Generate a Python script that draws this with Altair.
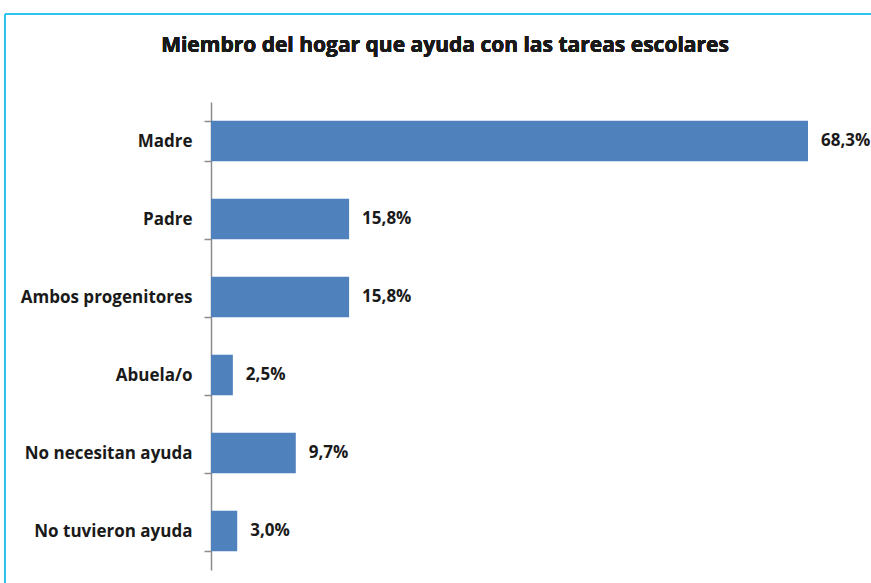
import altair as alt
import pandas as pd

categories = ["Madre", "Padre", "Ambos progenitores", "Abuela/o", "No necesitan ayuda", "No tuvieron ayuda"]
values = [68.3, 15.8, 15.8, 2.5, 9.7, 3.0]
labels = [f"{v:.1f}%".replace(".", ",") for v in values]
title_text = "Miembro del hogar que ayuda con las tareas escolares"

df = pd.DataFrame({"cat": categories, "val": values, "lab": labels})

FONT = "Open Sans"
W, H = 660, 468

y_enc = alt.Y("cat:N", sort=categories, scale=alt.Scale(paddingInner=0.48, paddingOuter=0.24),
              axis=alt.Axis(title=None, tickBand="extent", grid=False, domainColor="#8c8c8c",
                            tickColor="#8c8c8c", tickSize=7, labelPadding=12, labelFont=FONT,
                            labelFontSize=17, labelFontWeight="bold", labelColor="#1a1a1a",
                            domainWidth=1.5, tickWidth=1.5))
x_enc = alt.X("val:Q", scale=alt.Scale(domain=[0, 68.3 * W / 597]), axis=None)

bars = alt.Chart().mark_bar(color="#4F81BD").encode(x=x_enc, y=y_enc)
text = alt.Chart().mark_text(align="left", baseline="middle", dx=13, font=FONT, fontSize=17,
                             fontWeight="bold", color="#1a1a1a").encode(
    x=x_enc, y=alt.Y("cat:N", sort=categories), text="lab:N")

title = alt.Chart().mark_text(align="center", baseline="middle", font=FONT, fontSize=21,
                              fontWeight="bold", color="#1a1a1a").encode(
    x=alt.value(234), y=alt.value(-56), text=alt.value(title_text))

frame_top = alt.Chart().mark_rule(color="#2ec4f0", strokeWidth=2).encode(
    x=alt.value(-206), x2=alt.value(W + 5), y=alt.value(-88))
frame_left = alt.Chart().mark_rule(color="#2ec4f0", strokeWidth=2).encode(
    x=alt.value(-206), y=alt.value(-88), y2=alt.value(H + 20))

chart = alt.layer(frame_top, frame_left, bars, text, title, data=df).properties(
    width=W, height=H,
    background="white",
    autosize=alt.AutoSizeParams(type="none"),
    padding={"left": 211, "top": 102, "right": 0, "bottom": 13},
).configure_view(strokeWidth=0, stroke="transparent")

chart.save("out.html", embed_options={"renderer": "svg", "actions": False})
